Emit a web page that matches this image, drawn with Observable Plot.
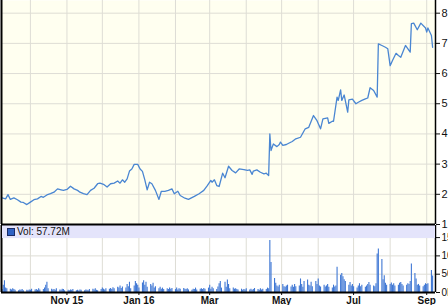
<!DOCTYPE html>
<html><head><meta charset="utf-8">
<script src="https://cdn.jsdelivr.net/npm/d3@7"></script>
<script src="https://cdn.jsdelivr.net/npm/@observablehq/plot@0.6"></script>
<style>
body{margin:0;background:#fff;}
#wrap{position:relative;width:448px;height:305px;overflow:hidden;font-family:"Liberation Sans",Arial,sans-serif;}
#vol g[aria-label^="x-axis"] text{font-weight:bold;}
#band{position:absolute;left:2px;top:225px;width:433px;height:13px;background:#e4e4fb;font-size:10px;color:#111;}
#band .sq{position:absolute;left:5px;top:3px;width:6px;height:6px;background:#2f62c4;border:1px solid #1b2c66;}
#band .tx{position:absolute;left:15px;top:0px;line-height:13px;}
</style></head><body>
<div id="wrap">
  <div id="vol" style="position:absolute;left:0;top:225px"></div>
  <div id="band"><span class="sq"></span><span class="tx" id="legend"></span></div>
  <div id="price" style="position:absolute;left:0;top:0"></div>
</div>
<script>
// ---- data ----
const priceDates = [
"2015-09-07","2015-09-10","2015-09-12","2015-09-14","2015-09-17","2015-09-20","2015-09-23","2015-09-25","2015-09-28",
"2015-10-01","2015-10-04","2015-10-07","2015-10-10","2015-10-12","2015-10-15","2015-10-18","2015-10-21","2015-10-24","2015-10-27","2015-10-29",
"2015-11-01","2015-11-04","2015-11-07","2015-11-10","2015-11-12","2015-11-15","2015-11-18","2015-11-21","2015-11-24","2015-11-27","2015-11-29",
"2015-12-02","2015-12-05","2015-12-08","2015-12-11","2015-12-14","2015-12-16","2015-12-18","2015-12-20","2015-12-22","2015-12-24","2015-12-26","2015-12-28","2015-12-31",
"2016-01-02","2016-01-04","2016-01-06","2016-01-08","2016-01-10","2016-01-12","2016-01-15","2016-01-18","2016-01-20","2016-01-23","2016-01-26","2016-01-29","2016-01-31",
"2016-02-03","2016-02-05","2016-02-09","2016-02-12","2016-02-17","2016-02-21","2016-02-25","2016-02-28",
"2016-03-02","2016-03-03","2016-03-05","2016-03-07","2016-03-09","2016-03-12","2016-03-14","2016-03-17","2016-03-20","2016-03-23","2016-03-26","2016-03-30",
"2016-04-02","2016-04-04","2016-04-06","2016-04-07","2016-04-10","2016-04-13","2016-04-16","2016-04-18","2016-04-20","2016-04-21","2016-04-22","2016-04-24","2016-04-27","2016-04-29","2016-04-30",
"2016-05-02","2016-05-05","2016-05-07","2016-05-10","2016-05-13","2016-05-17","2016-05-21","2016-05-24","2016-05-28","2016-05-31",
"2016-06-03","2016-06-05","2016-06-09","2016-06-10","2016-06-13","2016-06-14","2016-06-17","2016-06-18","2016-06-20","2016-06-21","2016-06-23","2016-06-26","2016-06-27","2016-06-30",
"2016-07-03","2016-07-05","2016-07-08","2016-07-11","2016-07-13","2016-07-15","2016-07-18","2016-07-21","2016-07-22","2016-07-25","2016-07-28","2016-07-30",
"2016-08-01","2016-08-03","2016-08-06","2016-08-08","2016-08-10","2016-08-14","2016-08-18","2016-08-19","2016-08-21","2016-08-24","2016-08-27","2016-08-31",
"2016-09-01","2016-09-02","2016-09-05","2016-09-06"
];
const priceValues = [
1.88,1.85,1.99,1.83,1.88,1.82,1.74,1.73,1.66,
1.74,1.82,1.85,1.93,1.90,1.98,2.02,2.07,2.18,2.15,2.13,
2.16,2.27,2.18,2.13,2.07,2.02,1.99,2.13,2.20,2.35,2.37,
2.33,2.24,2.35,2.37,2.44,2.37,2.48,2.40,2.51,2.77,2.84,2.99,2.99,
2.84,2.76,2.48,2.15,2.40,2.35,2.13,1.83,2.10,2.10,2.13,2.18,2.02,
2.10,1.96,1.87,1.83,1.93,2.02,2.13,2.29,
2.46,2.40,2.48,2.29,2.26,2.70,2.55,2.93,2.79,2.71,2.84,2.82,
2.79,2.81,2.66,2.77,2.81,2.73,2.68,2.70,2.62,4.00,3.45,3.67,3.58,3.65,3.73,
3.62,3.65,3.69,3.75,3.84,3.89,4.17,4.22,4.61,4.44,
4.17,4.50,4.53,4.35,4.42,4.42,5.22,5.11,5.46,5.11,5.29,4.72,5.13,5.15,
5.00,5.05,5.11,5.16,5.19,5.53,5.44,5.22,6.98,6.93,6.87,6.82,
6.26,6.43,6.67,6.60,6.54,6.93,6.71,7.65,7.67,7.45,7.67,7.51,
7.37,7.51,7.26,6.87
];
// daily volume in millions, one row per week (Mon..Fri), first week starts Mon 2015-09-07
const volumeStart = "2015-09-07";
const volumeByWeek = [
[8,20,32,12,10],[9,7,10,8,6],[5,7,6,8,5],[6,5,7,6,9],[7,8,6,10,7],
[8,12,20,28,10],[9,7,8,6,10],[7,6,9,8,5],[6,5,7,6,8],[5,6,4,7,6],
[5,7,6,5,8],[9,7,10,6,5],[8,12,9,7,10],[9,11,8,13,10],[14,12,18,11,15],
[12,22,16,28,10],[18,30,24,20,12],[26,32,20,28,14],[22,18,25,12,16],[10,14,9,12,8],
[10,8,12,9,11],[8,12,7,10,9],[11,9,8,10,7],[6,9,8,12,7],[9,10,8,11,9],
[12,20,9,14,10],[8,15,24,30,12],[28,14,34,22,10],[12,9,10,8,7],[9,6,8,7,10],
[7,9,6,8,11],[8,6,10,7,9],[8,12,10,142,82],[38,25,18,15,20],[22,16,14,18,20],
[15,20,14,22,16],[18,37,22,14,30],[34,20,18,28,16],[30,22,37,18,15],[20,15,18,22,14],
[12,20,15,18,69],[47,52,43,35,30],[20,27,18,22,16],[12,18,24,16,20],[14,18,22,27,20],
[18,16,24,105,119],[90,35,46,25,20],[22,26,20,24,18],[20,25,27,22,18],[20,24,22,30,78],
[52,37,20,22,18],[16,20,24,22,24],[60,45]
];
const priceTicks = [1,2,3,4,5,6,7,8];
const volumeTicks = [0,50,100,150];
const xTickDates = ["2015-11-01","2016-01-01","2016-03-01","2016-05-01","2016-07-01","2016-09-01"];
const xTickLabels = ["Nov 15","Jan 16","Mar","May","Jul","Sep"];
const legendLabel = "Vol: 57.72M";

// ---- build ----
const parse = d3.utcParse("%Y-%m-%d");
const price = priceDates.map((d, i) => ({date: parse(d), value: priceValues[i]}));
const vStart = parse(volumeStart);
const volume = volumeByWeek.flatMap((week, w) => week.map((v, i) => ({date: d3.utcDay.offset(vStart, w * 7 + i), value: v})));
const xDomain = [new Date("2015-09-06T12:00:00Z"), new Date("2016-09-08T10:48:00Z")];
const gridMonths = d3.utcMonth.range(new Date("2015-10-01T00:00:00Z"), new Date("2016-09-02T00:00:00Z"));
const tickDates = xTickDates.map(parse);
const labelOf = d => xTickLabels[tickDates.findIndex(t => +t === +d)];

const gridColor = "#deddd5";
const common = {width: 448, marginLeft: 1, marginRight: 13, marginTop: 0};

const pricePlot = Plot.plot({
  ...common, height: 225, marginBottom: 1,
  style: {background: "transparent", overflow: "visible", fontFamily: "Liberation Sans, Arial, sans-serif", fontSize: "11px", color: "#111"},
  x: {type: "utc", domain: xDomain, axis: null},
  y: {domain: [1, 8.42], axis: "right", ticks: priceTicks, tickFormat: d => String(d), tickSize: 4, tickPadding: 2, label: null},
  marks: [
    Plot.frame({fill: "#fffff0", stroke: "none"}),
    Plot.ruleX(gridMonths, {stroke: gridColor}),
    Plot.ruleY(priceTicks.slice(1), {stroke: gridColor}),
    Plot.line(price, {x: "date", y: "value", stroke: "#4a86d2", strokeWidth: 1.3}),
    Plot.ruleX([xDomain[0]], {stroke: "#000", strokeWidth: 2}),
    Plot.ruleX([xDomain[1]], {stroke: "#000", strokeWidth: 1.5}),
    Plot.ruleY([1], {stroke: "#000", strokeWidth: 2})
  ]
});
document.getElementById("price").appendChild(pricePlot);

const volPlot = Plot.plot({
  ...common, height: 80, marginBottom: 13,
  style: {background: "#fff", fontFamily: "Liberation Sans, Arial, sans-serif", fontSize: "10px", color: "#111"},
  x: {type: "utc", domain: xDomain, axis: "bottom", ticks: tickDates, tickFormat: labelOf, tickSize: 3, tickPadding: 1, label: null},
  y: {domain: [0, 183], axis: "right", ticks: volumeTicks, tickFormat: d => d + "M", tickSize: 4, tickPadding: 2, label: null},
  marks: [
    Plot.ruleX(gridMonths, {stroke: gridColor}),
    Plot.ruleY(volumeTicks.slice(1), {stroke: gridColor}),
    Plot.ruleX(volume, {x: "date", y: "value", stroke: "#3f77d4", strokeWidth: 1.1}),
    Plot.ruleX([xDomain[0]], {stroke: "#000", strokeWidth: 2}),
    Plot.ruleX([xDomain[1]], {stroke: "#000", strokeWidth: 1.5}),
    Plot.ruleY([0], {stroke: "#000", strokeWidth: 2})
  ]
});
document.getElementById("vol").appendChild(volPlot);
document.getElementById("legend").textContent = legendLabel;
</script>
</body></html>
